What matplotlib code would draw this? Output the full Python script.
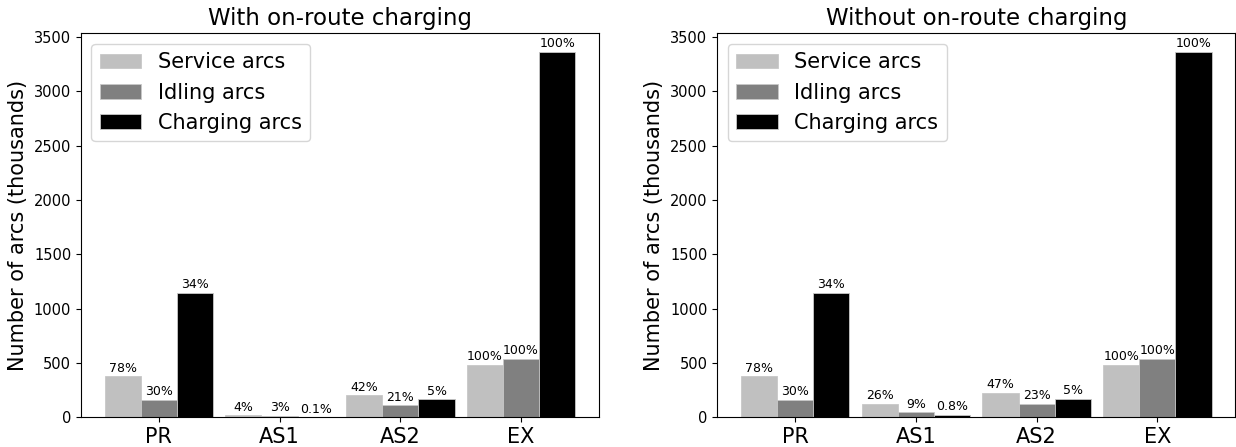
import numpy as np
import matplotlib
matplotlib.use('Agg')
import matplotlib.pyplot as plt

categories = ['PR', 'AS1', 'AS2', 'EX']
series_names = ['Service arcs', 'Idling arcs', 'Charging arcs']
colors = ['#c0c0c0', '#808080', '#000000']

# number of arcs (thousands)
with_service = [376, 18, 204, 484]
with_idling = [162, 14, 114, 539]
with_charging = [1146, 2, 168, 3364]
without_service = [376, 126, 227, 484]
without_idling = [162, 47, 124, 539]
without_charging = [1146, 24, 172, 3364]

with_labels = [['78%', '4%', '42%', '100%'],
               ['30%', '3%', '21%', '100%'],
               ['34%', '0.1%', '5%', '100%']]
without_labels = [['78%', '26%', '47%', '100%'],
                  ['30%', '9%', '23%', '100%'],
                  ['34%', '0.8%', '5%', '100%']]

panels = [
    ('With on-route charging', [with_service, with_idling, with_charging], with_labels),
    ('Without on-route charging', [without_service, without_idling, without_charging], without_labels),
]

fig = plt.figure(figsize=(12.36, 4.47), dpi=100)
ax_left = fig.add_axes([0.0655, 0.0664, 0.4191, 0.859])
ax_right = fig.add_axes([0.5803, 0.0664, 0.4191, 0.859])

x = np.arange(len(categories))
w = 0.3
for ax, (title, vals, labels) in zip([ax_left, ax_right], panels):
    for i, (name, v, c, lab) in enumerate(zip(series_names, vals, colors, labels)):
        bars = ax.bar(x + (i - 1) * w, v, w, color=c, label=name,
                      edgecolor='#c8c8c8', linewidth=0.6)
        ax.bar_label(bars, labels=lab, padding=1, fontsize=9)
    ax.set_title(title, fontsize=16.5)
    ax.set_ylabel('Number of arcs (thousands)', fontsize=15)
    ax.set_xticks(x)
    ax.set_xticklabels(categories, fontsize=15)
    ax.tick_params(axis='y', labelsize=10.5)
    ax.set_yticks(np.arange(0, 3501, 500))
    ax.legend(loc='upper left', fontsize=15)

plt.savefig('out.png', dpi=100)
